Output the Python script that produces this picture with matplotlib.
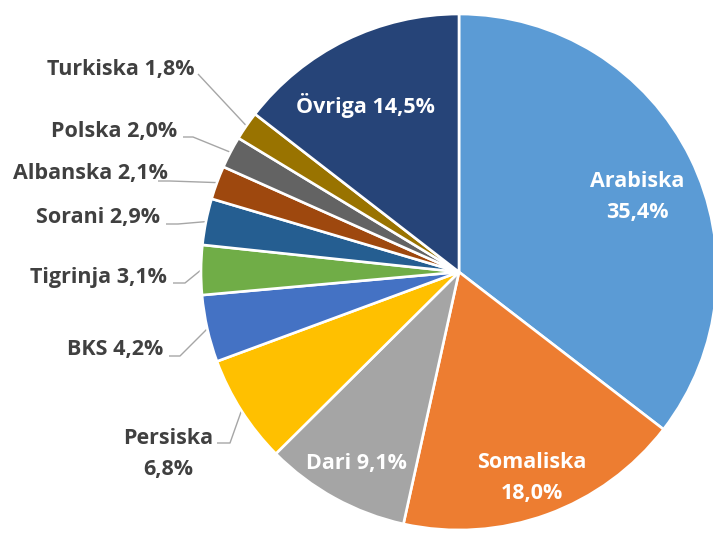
import matplotlib
matplotlib.use("Agg")
import matplotlib.pyplot as plt
import numpy as np

# ---- data ----
languages = ["Arabiska", "Somaliska", "Dari", "Persiska", "BKS", "Tigrinja",
             "Sorani", "Albanska", "Polska", "Turkiska", "Övriga"]
shares = [35.4, 18.0, 9.1, 6.8, 4.2, 3.1, 2.9, 2.1, 2.0, 1.8, 14.5]
pct_labels = ["35,4%", "18,0%", "9,1%", "6,8%", "4,2%", "3,1%",
              "2,9%", "2,1%", "2,0%", "1,8%", "14,5%"]
colors = ["#5B9BD5", "#ED7D31", "#A5A5A5", "#FFC000", "#4472C4", "#70AD47",
          "#255E91", "#9E480E", "#636363", "#997300", "#264478"]

W, H = 713, 533
CX, CY, R = 459, 272, 258
FONT = "Open Sans"
FS = 15.5
LS = 1.6
DY = 2  # small vertical text offset in px

fig = plt.figure(figsize=(W / 100, H / 100), dpi=100)
ax = fig.add_axes([0, 0, 1, 1])

wedges, _ = ax.pie(shares, colors=colors, startangle=90, counterclock=False,
                   radius=1.0, center=(0, 0),
                   wedgeprops=dict(edgecolor="white", linewidth=1.9))
ax.set_xlim(-CX / R, (W - CX) / R)
ax.set_ylim(-(H - CY) / R, CY / R)
ax.set_aspect("equal")
ax.axis("off")


def p2d(px, py):
    return (px - CX) / R, (CY - py) / R


def wedge_point(w, r=1.0):
    ang = np.deg2rad((w.theta1 + w.theta2) / 2)
    return r * np.cos(ang), r * np.sin(ang)


inside = {
    0: ("Arabiska\n" + pct_labels[0], 637, 195),
    1: ("Somaliska\n" + pct_labels[1], 532, 476),
    2: ("Dari " + pct_labels[2], 356, 461),
    10: ("Övriga " + pct_labels[10], 365, 104),
}
for i, (txt, px, py) in inside.items():
    x, y = p2d(px, py + DY)
    ax.text(x, y, txt, ha="center", va="center", color="white",
            fontsize=FS, fontweight="bold", family=FONT, linespacing=LS)

outside = {
    9: ("Turkiska " + pct_labels[9], 195, 67, "right", [(198, 74)]),
    8: ("Polska " + pct_labels[8], 177, 129, "right", [(183, 137), (193, 137)]),
    7: ("Albanska " + pct_labels[7], 168, 172, "right", [(158, 181), (170, 181)]),
    6: ("Sorani " + pct_labels[6], 160, 216, "right", [(166, 224), (178, 224)]),
    5: ("Tigrinja " + pct_labels[5], 167, 276, "right", [(173, 283), (185, 283)]),
    4: ("BKS " + pct_labels[4], 163, 348, "right", [(169, 356), (180, 356)]),
    3: ("Persiska\n" + pct_labels[3], 168, 452, "center", [(217, 443), (230, 443)]),
}
for i, (txt, px, py, ha, pts) in outside.items():
    x, y = p2d(px, py + DY)
    ax.text(x, y, txt, ha=ha, va="center", color="#404040",
            fontsize=FS, fontweight="bold", family=FONT, linespacing=LS)
    xs = [p2d(a, b)[0] for a, b in pts]
    ys = [p2d(a, b)[1] for a, b in pts]
    wx, wy = wedge_point(wedges[i], 1.0)
    xs.append(wx)
    ys.append(wy)
    ax.plot(xs, ys, color="#A6A6A6", lw=1.0, solid_capstyle="butt", zorder=0.5)

fig.savefig("out.png", dpi=100)
